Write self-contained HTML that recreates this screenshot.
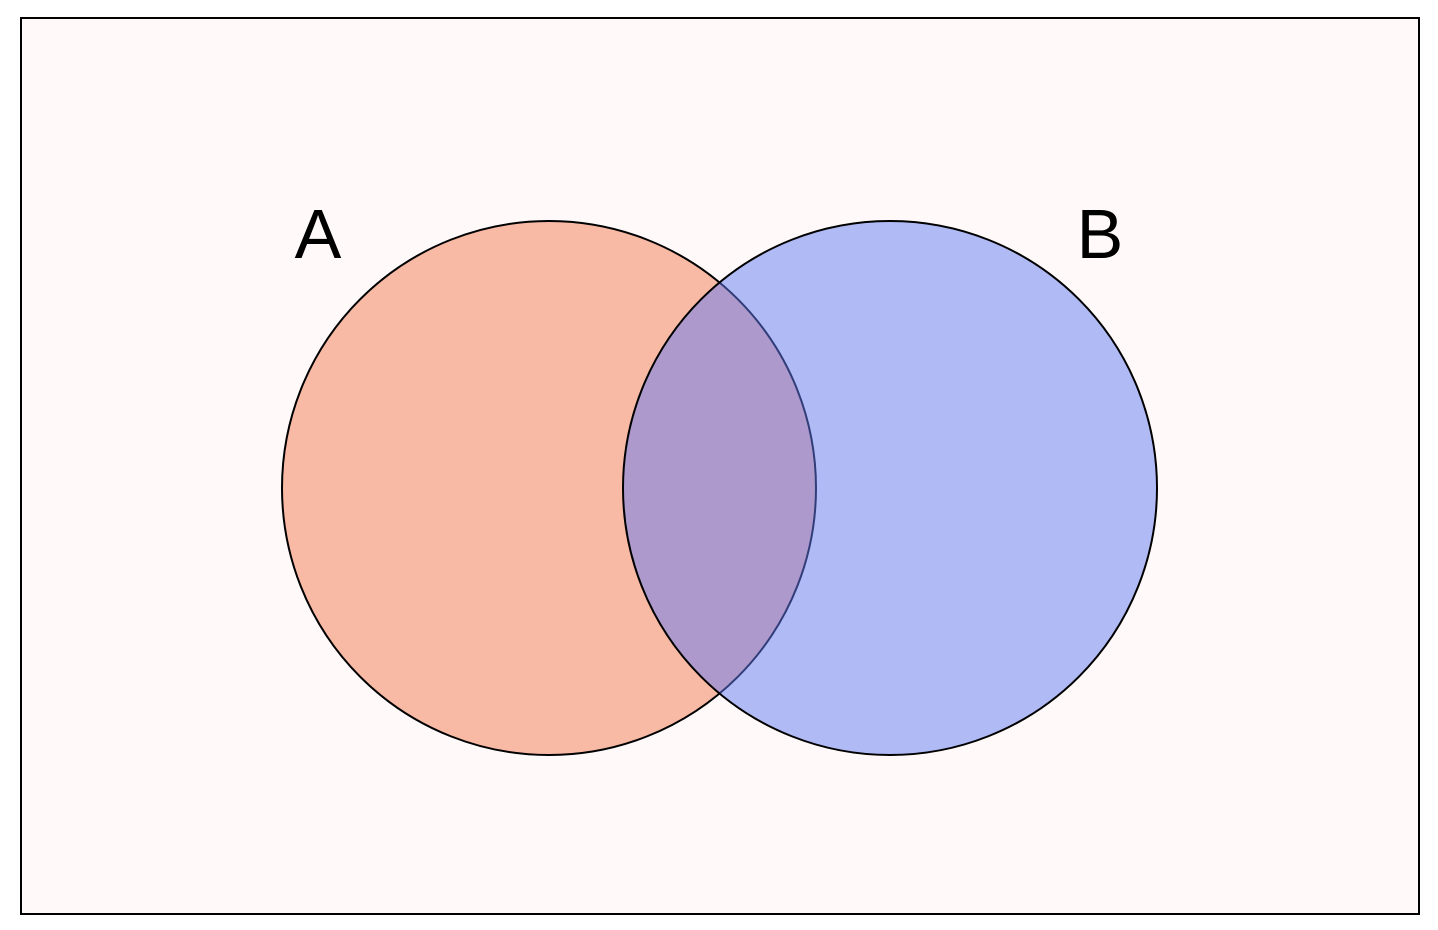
<!DOCTYPE html>
<html><head><meta charset="utf-8"><style>html,body{margin:0;padding:0;background:#fff;}svg{display:block}</style></head>
<body>
<svg width="1438" height="930" viewBox="0 0 1438 930" xmlns="http://www.w3.org/2000/svg">
<rect x="21" y="18" width="1398" height="896" fill="#fffaf9" stroke="#000" stroke-width="2"/>
<circle cx="549" cy="488" r="267" fill="#f8b9a5" stroke="#000" stroke-width="2"/>
<circle cx="890" cy="488" r="267" fill="rgb(97,122,241)" fill-opacity="0.5" stroke="#000" stroke-width="2"/>
<text x="318" y="258" font-family="Liberation Sans, sans-serif" font-size="70" text-anchor="middle" fill="#000">A</text>
<text x="1100" y="258" font-family="Liberation Sans, sans-serif" font-size="70" text-anchor="middle" fill="#000">B</text>
</svg>
</body></html>
